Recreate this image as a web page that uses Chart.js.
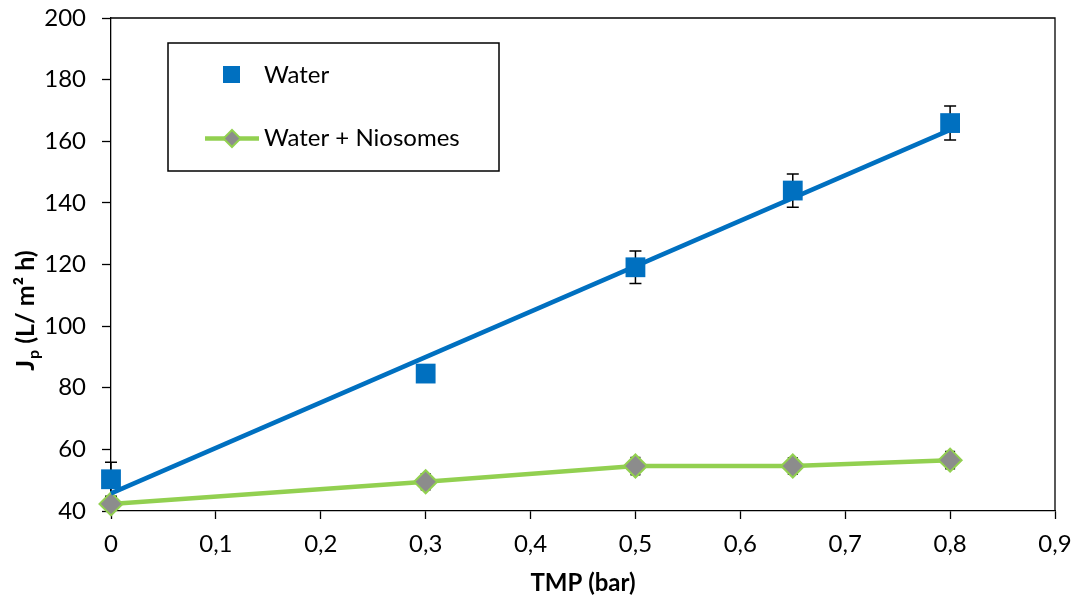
<!DOCTYPE html>
<html>
<head>
<meta charset="utf-8">
<script src="https://cdn.jsdelivr.net/npm/chart.js@4.4.0/dist/chart.umd.min.js"></script>
<style>
  html, body { margin: 0; padding: 0; background: #ffffff; }
  #wrap { position: relative; width: 1077px; height: 601px; }
</style>
</head>
<body>
<div id="wrap"><canvas id="c"></canvas></div>
<script>
// ---- data ----
const tmp = [0, 0.3, 0.5, 0.65, 0.8];
const waterFlux = [50.3, 84.6, 119.1, 144.0, 165.9];
const waterErr = [5.5, 0, 5.3, 5.4, 5.5];
const niosomeFlux = [42.3, 49.5, 54.6, 54.6, 56.5];
const niosomeErr = [1.5, 2.6, 2.8, 2.7, 2.8];
const trendX = [0, 0.8];
const trendY = [45.7, 163.7];
const xTickLabels = ['0', '0,1', '0,2', '0,3', '0,4', '0,5', '0,6', '0,7', '0,8', '0,9'];
const yTickValues = [40, 60, 80, 100, 120, 140, 160, 180, 200];

const FONT = 'Lato, "Open Sans", sans-serif';
const BLUE = '#0070C0';
const GREEN = '#92D050';
const GRAY = '#8C8C8C';

const toPts = (xs, ys) => xs.map((x, i) => ({ x: x, y: ys[i] }));

const errorBars = {
  id: 'errorBars',
  beforeDatasetsDraw(chart) {
    const ctx = chart.ctx;
    const xs = chart.scales.x, ys = chart.scales.y;
    const sets = [[waterFlux, waterErr, 6], [niosomeFlux, niosomeErr, 5]];
    ctx.save();
    ctx.strokeStyle = '#000';
    ctx.lineWidth = 1.5;
    sets.forEach(([vals, errs, cap]) => {
      vals.forEach((v, i) => {
        if (!errs[i]) return;
        const px = xs.getPixelForValue(tmp[i]);
        const top = ys.getPixelForValue(v + errs[i]);
        const bot = ys.getPixelForValue(v - errs[i]);
        ctx.beginPath();
        ctx.moveTo(px, top); ctx.lineTo(px, bot);
        ctx.moveTo(px - cap, top); ctx.lineTo(px + cap, top);
        ctx.moveTo(px - cap, bot); ctx.lineTo(px + cap, bot);
        ctx.stroke();
      });
    });
    ctx.restore();
  }
};

const frameAndLabels = {
  id: 'frameAndLabels',
  afterDraw(chart) {
    const ctx = chart.ctx;
    const a = chart.chartArea;
    ctx.save();
    // top & right frame
    ctx.strokeStyle = '#000';
    ctx.lineWidth = 1.3;
    ctx.beginPath();
    ctx.moveTo(a.left, a.top); ctx.lineTo(a.right, a.top); ctx.lineTo(a.right, a.bottom);
    ctx.stroke();

    // legend box
    ctx.lineWidth = 1.5;
    ctx.strokeRect(168, 43, 331, 128);
    ctx.fillStyle = BLUE;
    ctx.fillRect(223, 66, 17, 17);
    ctx.strokeStyle = GREEN;
    ctx.lineWidth = 4.5;
    ctx.beginPath(); ctx.moveTo(205, 138.5); ctx.lineTo(259, 138.5); ctx.stroke();
    ctx.beginPath();
    ctx.moveTo(232, 130); ctx.lineTo(240.5, 138.5); ctx.lineTo(232, 147); ctx.lineTo(223.5, 138.5); ctx.closePath();
    ctx.fillStyle = GRAY; ctx.fill();
    ctx.lineWidth = 2; ctx.stroke();
    ctx.fillStyle = '#000';
    ctx.font = '24px ' + FONT;
    ctx.textBaseline = 'middle';
    ctx.textAlign = 'left';
    ctx.fillText('Water', 264, 75);
    ctx.fillText('Water + Niosomes', 264, 138);

    // y title with subscript
    ctx.translate(26, 311);
    ctx.rotate(-Math.PI / 2);
    const big = 'bold 25px ' + FONT, small = 'bold 16px ' + FONT;
    ctx.font = big; const wJ = ctx.measureText('J').width;
    ctx.font = small; const wp = ctx.measureText('p').width;
    ctx.font = big; const rest = ' (L/ m\u00B2 h)'; const wr = ctx.measureText(rest).width;
    const total = wJ + wp + wr;
    let x0 = -total / 2;
    ctx.textAlign = 'left';
    ctx.textBaseline = 'alphabetic';
    ctx.font = big; ctx.fillText('J', x0, 8);
    ctx.font = small; ctx.fillText('p', x0 + wJ + 1, 13);
    ctx.font = big; ctx.fillText(rest, x0 + wJ + wp + 1, 8);
    ctx.restore();
  }
};

new Chart(document.getElementById('c'), {
  type: 'scatter',
  data: {
    datasets: [
      {
        label: 'Water',
        data: toPts(tmp, waterFlux),
        showLine: false,
        clip: false,
        pointStyle: 'rect',
        pointRadius: 14,
        pointHoverRadius: 14,
        backgroundColor: BLUE,
        borderColor: BLUE,
        pointBorderWidth: 0
      },
      {
        label: 'Water trend',
        data: toPts(trendX, trendY),
        showLine: true,
        clip: false,
        pointRadius: 0,
        borderColor: BLUE,
        borderWidth: 4.5
      },
      {
        label: 'Water + Niosomes',
        data: toPts(tmp, niosomeFlux),
        showLine: true,
        clip: false,
        borderColor: GREEN,
        borderWidth: 4.5,
        pointStyle: 'rectRot',
        pointRadius: 11.5,
        pointHoverRadius: 11.5,
        pointBackgroundColor: GRAY,
        pointBorderColor: GREEN,
        pointBorderWidth: 2
      }
    ]
  },
  options: {
    responsive: true,
    maintainAspectRatio: false,
    animation: false,
    layout: { padding: { left: 0, top: 18, right: 22, bottom: 0 } },
    plugins: {
      legend: { display: false },
      tooltip: { enabled: false }
    },
    scales: {
      x: {
        type: 'linear',
        min: 0, max: 0.9,
        afterFit(s) { s.height = 90; s.paddingLeft = 0; s.paddingRight = 0; },
        afterBuildTicks(s) { s.ticks = xTickLabels.map((_, i) => ({ value: i / 10 })); },
        ticks: {
          color: '#000',
          font: { family: FONT, size: 24 },
          padding: 11,
          maxRotation: 0,
          callback: (v, i) => xTickLabels[i]
        },
        grid: { drawOnChartArea: false, tickLength: 8, color: '#000', tickColor: '#000', tickWidth: 1.3 },
        border: { color: '#000', width: 1.3 },
        title: {
          display: true, text: 'TMP (bar)', color: '#000',
          font: { family: FONT, size: 24, weight: 'bold' },
          padding: { top: 0, bottom: 3 }
        }
      },
      y: {
        type: 'linear',
        min: 40, max: 200,
        afterFit(s) { s.width = 111; s.paddingTop = 0; s.paddingBottom = 0; },
        afterBuildTicks(s) { s.ticks = yTickValues.map(v => ({ value: v })); },
        ticks: {
          color: '#000',
          font: { family: FONT, size: 24 },
          padding: 16
        },
        grid: { drawOnChartArea: false, tickLength: 9, color: '#000', tickColor: '#000', tickWidth: 1.3 },
        border: { color: '#000', width: 1.3 }
      }
    }
  },
  plugins: [errorBars, frameAndLabels]
});
</script>
</body>
</html>
